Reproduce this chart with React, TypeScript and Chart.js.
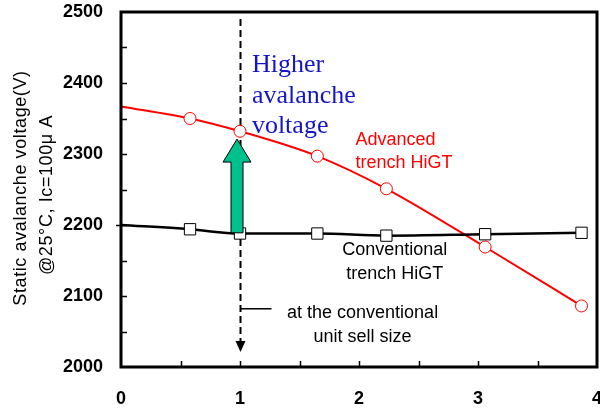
import React, { useEffect, useRef } from "react";
import { Chart, registerables } from "chart.js";

Chart.register(...registerables);

// Unit cell size (relative to the conventional size) and static avalanche voltage (V)
const cellSize = [0, 0.58, 1.0, 1.65, 2.23, 3.06, 3.87];
const advancedHiGT = [2367, 2350, 2332, 2297, 2251, 2169, 2086];
const conventionalHiGT = [2200, 2194, 2188, 2188, 2185, 2187, 2189];
const markerShown = [false, true, true, true, true, true, true];

const xMin = 0;
const xMax = 4;
const yMin = 2000;
const yMax = 2500;
const xMinorStep = 0.5;
const yMinorStep = 50;

const yTitle = ["Static avalanche voltage(V)", "@25°C, Ic=100μ A"];
const gainLabel = ["Higher", "avalanche", "voltage"];
const advancedLabel = ["Advanced", "trench HiGT"];
const conventionalLabel = ["Conventional", "trench HiGT"];
const referenceLabel = ["at the conventional", "unit sell size"];
const referenceCell = 1;
const arrowX = 0.975;
const arrowFrom = 2189;
const arrowTo = 2321;

const SANS = "'Liberation Sans', Arial, sans-serif";
const SERIF = "'Liberation Serif', 'Times New Roman', serif";

const decorations = {
  id: "decorations",
  beforeDatasetsDraw(chart: any) {
    const { ctx, chartArea: a, scales } = chart;
    const xs = scales.x;
    const ys = scales.y;
    ctx.save();

    // reference cell size: dashed guide with arrow head
    const rx = Math.round(xs.getPixelForValue(referenceCell)) + 0.5;
    ctx.strokeStyle = "#000";
    ctx.lineWidth = 2;
    ctx.setLineDash([7, 4]);
    ctx.beginPath();
    ctx.moveTo(rx, a.top + 7);
    ctx.lineTo(rx, a.bottom - 24);
    ctx.stroke();
    ctx.setLineDash([]);
    ctx.fillStyle = "#000";
    ctx.beginPath();
    ctx.moveTo(rx - 5, a.bottom - 26);
    ctx.lineTo(rx + 5, a.bottom - 26);
    ctx.lineTo(rx, a.bottom - 15);
    ctx.closePath();
    ctx.fill();

    // leader from the guide to its caption
    const ly = ys.getPixelForValue(2082);
    ctx.lineWidth = 1.5;
    ctx.beginPath();
    ctx.moveTo(rx, ly);
    ctx.lineTo(rx + 31, ly);
    ctx.stroke();
    ctx.restore();
  },
  afterDatasetsDraw(chart: any) {
    const { ctx, chartArea: a, scales } = chart;
    const xs = scales.x;
    const ys = scales.y;
    ctx.save();

    // green arrow showing the voltage gain
    const cx = xs.getPixelForValue(arrowX);
    const yb = ys.getPixelForValue(arrowFrom);
    const yt = ys.getPixelForValue(arrowTo);
    const headLen = 23;
    const headHalf = 14;
    const shaftHalf = 6;
    ctx.beginPath();
    ctx.moveTo(cx - shaftHalf, yb);
    ctx.lineTo(cx - shaftHalf, yt + headLen);
    ctx.lineTo(cx - headHalf, yt + headLen);
    ctx.lineTo(cx, yt);
    ctx.lineTo(cx + headHalf, yt + headLen);
    ctx.lineTo(cx + shaftHalf, yt + headLen);
    ctx.lineTo(cx + shaftHalf, yb);
    ctx.closePath();
    ctx.fillStyle = "#00C08C";
    ctx.fill();
    ctx.strokeStyle = "#000";
    ctx.lineWidth = 1;
    ctx.stroke();

    // frame
    ctx.strokeStyle = "#000";
    ctx.lineWidth = 3;
    ctx.strokeRect(a.left, a.top, a.right - a.left, a.bottom - a.top);

    // inward tick marks
    ctx.lineWidth = 1.5;
    ctx.beginPath();
    for (let v = yMin + yMinorStep; v < yMax; v += yMinorStep) {
      const py = Math.round(ys.getPixelForValue(v)) + 0.5;
      ctx.moveTo(a.left, py);
      ctx.lineTo(a.left + 6, py);
    }
    const py2200 = Math.round(ys.getPixelForValue(2200)) + 0.5;
    ctx.moveTo(a.left - 5, py2200);
    ctx.lineTo(a.left, py2200);
    for (let v = xMin + xMinorStep; v < xMax; v += xMinorStep) {
      const px = Math.round(xs.getPixelForValue(v)) + 0.5;
      ctx.moveTo(px, a.bottom);
      ctx.lineTo(px, a.bottom - 6);
    }
    ctx.stroke();

    // text annotations
    ctx.textBaseline = "alphabetic";
    const gx = xs.getPixelForValue(1.1);
    ctx.fillStyle = "#1414C8";
    ctx.font = `26px ${SERIF}`;
    ctx.textAlign = "left";
    gainLabel.forEach((t, i) => ctx.fillText(t, gx, a.top + 60 + i * 30.5));

    ctx.font = `18px ${SANS}`;
    ctx.fillStyle = "#FF0000";
    const ax = xs.getPixelForValue(1.97);
    advancedLabel.forEach((t, i) => ctx.fillText(t, ax, a.top + 133 + i * 23));

    ctx.fillStyle = "#000";
    ctx.textAlign = "center";
    const cvx = xs.getPixelForValue(2.3);
    conventionalLabel.forEach((t, i) => ctx.fillText(t, cvx, a.top + 243 + i * 24));
    const rlx = xs.getPixelForValue(2.03);
    referenceLabel.forEach((t, i) => ctx.fillText(t, rlx, a.top + 306 + i * 24));

    // y-axis title (two rotated lines)
    ctx.textAlign = "center";
    ctx.textBaseline = "middle";
    ctx.font = `18px ${SANS}`;
    (ctx as any).letterSpacing = "0.6px";
    ctx.save();
    ctx.translate(21, 188);
    ctx.rotate(-Math.PI / 2);
    ctx.fillText(yTitle[0], 0, 0);
    ctx.restore();
    ctx.save();
    ctx.translate(47, 195);
    ctx.rotate(-Math.PI / 2);
    ctx.fillText(yTitle[1], 0, 0);
    ctx.restore();

    ctx.restore();
  },
};

export default function App() {
  const canvasRef = useRef<HTMLCanvasElement | null>(null);

  useEffect(() => {
    if (!canvasRef.current) return;
    const pts = (ys: number[]) => cellSize.map((x, i) => ({ x, y: ys[i] }));
    const chart = new Chart(canvasRef.current, {
      type: "line",
      data: {
        datasets: [
          {
            label: "Conventional trench HiGT",
            data: pts(conventionalHiGT),
            borderColor: "#000",
            borderWidth: 2.5,
            pointStyle: "rect",
            pointRadius: markerShown.map((m) => (m ? 8 : 0)),
            pointBackgroundColor: "#fff",
            pointBorderColor: "#000",
            pointBorderWidth: 1,
            cubicInterpolationMode: "monotone",
          },
          {
            label: "Advanced trench HiGT",
            data: pts(advancedHiGT),
            borderColor: "#FF0000",
            borderWidth: 2,
            pointStyle: "circle",
            pointRadius: markerShown.map((m) => (m ? 6 : 0)),
            pointBackgroundColor: "#fff",
            pointBorderColor: "#FF0000",
            pointBorderWidth: 1,
            cubicInterpolationMode: "monotone",
          },
        ],
      },
      options: {
        animation: false,
        responsive: false,
        events: [],
        layout: { autoPadding: false, padding: { top: 12, right: 3, left: 0, bottom: 0 } },
        plugins: { legend: { display: false }, tooltip: { enabled: false } },
        scales: {
          x: {
            type: "linear",
            min: xMin,
            max: xMax,
            grid: { display: false, drawTicks: false },
            border: { display: false },
            ticks: {
              stepSize: 1,
              padding: 21,
              color: "#000",
              font: { family: SANS, size: 18, weight: "bold" },
              callback: (v: any) => String(v),
            },
            afterFit(scale: any) {
              scale.height = 43;
              scale.paddingLeft = 0;
              scale.paddingRight = 0;
            },
          },
          y: {
            type: "linear",
            min: yMin,
            max: yMax,
            grid: { display: false, drawTicks: false },
            border: { display: false },
            ticks: {
              stepSize: 100,
              padding: 18,
              color: "#000",
              font: { family: SANS, size: 18, weight: "bold" },
              callback: (v: any) => String(v),
            },
            afterFit(scale: any) {
              scale.width = 121;
              scale.paddingTop = 0;
              scale.paddingBottom = 0;
            },
          },
        },
      },
      plugins: [decorations],
    });
    return () => chart.destroy();
  }, []);

  return (
    <div style={{ position: "fixed", left: 0, top: 0, width: 600, height: 410, background: "#fff" }}>
      <canvas ref={canvasRef} width={600} height={410} />
    </div>
  );
}
